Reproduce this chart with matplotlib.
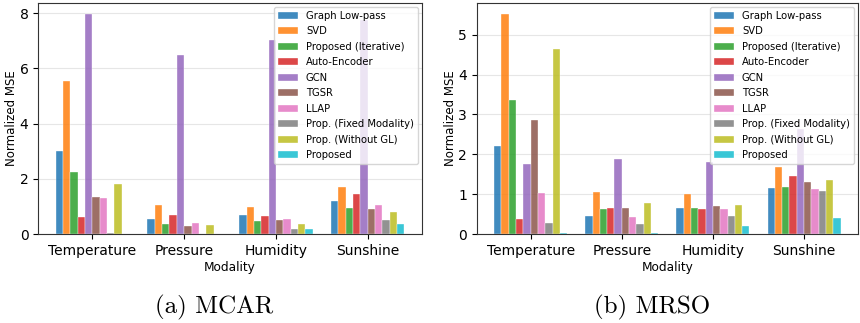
import numpy as np
import matplotlib
matplotlib.use("Agg")
import matplotlib.pyplot as plt

MODALITIES = ["Temperature", "Pressure", "Humidity", "Sunshine"]
METHODS = ["Graph Low-pass", "SVD", "Proposed (Iterative)", "Auto-Encoder", "GCN",
           "TGSR", "LLAP", "Prop. (Fixed Modality)", "Prop. (Without GL)", "Proposed"]

# rows: methods, columns: modalities
MCAR = [
    [3.00, 0.55, 0.70, 1.21],
    [5.56, 1.06, 0.98, 1.70],
    [2.25, 0.37, 0.46, 0.96],
    [0.62, 0.70, 0.66, 1.46],
    [7.97, 6.47, 7.04, 7.75],
    [1.35, 0.28, 0.53, 0.91],
    [1.32, 0.42, 0.56, 1.06],
    [0.06, 0.02, 0.18, 0.50],
    [1.83, 0.32, 0.38, 0.82],
    [0.02, 0.02, 0.18, 0.38],
]
MRSO = [
    [2.21, 0.45, 0.66, 1.15],
    [5.52, 1.06, 1.00, 1.69],
    [3.36, 0.63, 0.66, 1.19],
    [0.39, 0.66, 0.64, 1.45],
    [1.76, 1.89, 1.81, 2.64],
    [2.87, 0.65, 0.71, 1.30],
    [1.04, 0.44, 0.62, 1.13],
    [0.27, 0.25, 0.45, 1.09],
    [4.63, 0.79, 0.74, 1.36],
    [0.04, 0.03, 0.20, 0.41],
]
CAPTIONS = ["(a) MCAR", "(b) MRSO"]

COLORS = plt.get_cmap("tab10").colors
W = 0.08


def _plot_panel(ax, data):
    x = np.arange(len(MODALITIES))
    for i, (name, vals) in enumerate(zip(METHODS, data)):
        ax.bar(x - 0.4 + W / 2 + i * W, vals, W, label=name, color=COLORS[i],
               alpha=0.85, edgecolor="white", linewidth=0.3)
    ax.set_axisbelow(True)
    ax.grid(axis="y", color="#e6e6e6", linewidth=0.8)
    ax.set_xticks(x)
    ax.set_xticklabels(MODALITIES, fontsize=10)
    ax.tick_params(axis="y", labelsize=10)
    ax.set_xlim(-0.59, 3.59)
    ax.set_xlabel("Modality", fontsize=8.7, labelpad=2)
    ax.set_ylabel("Normalized MSE", fontsize=8.5, labelpad=1)
    ax.legend(loc="upper right", fontsize=7.2, handlelength=2.0,
              labelspacing=0.55, borderaxespad=0.4, framealpha=0.8)
    for s in ax.spines.values():
        s.set_color("#333333")


fig = plt.figure(figsize=(8.6, 3.23), dpi=100)
ax1 = fig.add_axes([0.0445, 0.275, 0.446, 0.716])
ax2 = fig.add_axes([0.5545, 0.275, 0.443, 0.716])

_plot_panel(ax1, MCAR)
_plot_panel(ax2, MRSO)

for xc, cap in zip([214 / 860, 652 / 860], CAPTIONS):
    fig.text(xc, 1 - 307 / 323, cap, ha="center", va="center",
             fontsize=18, family="cmr10")

fig.savefig("out.png", dpi=100)
